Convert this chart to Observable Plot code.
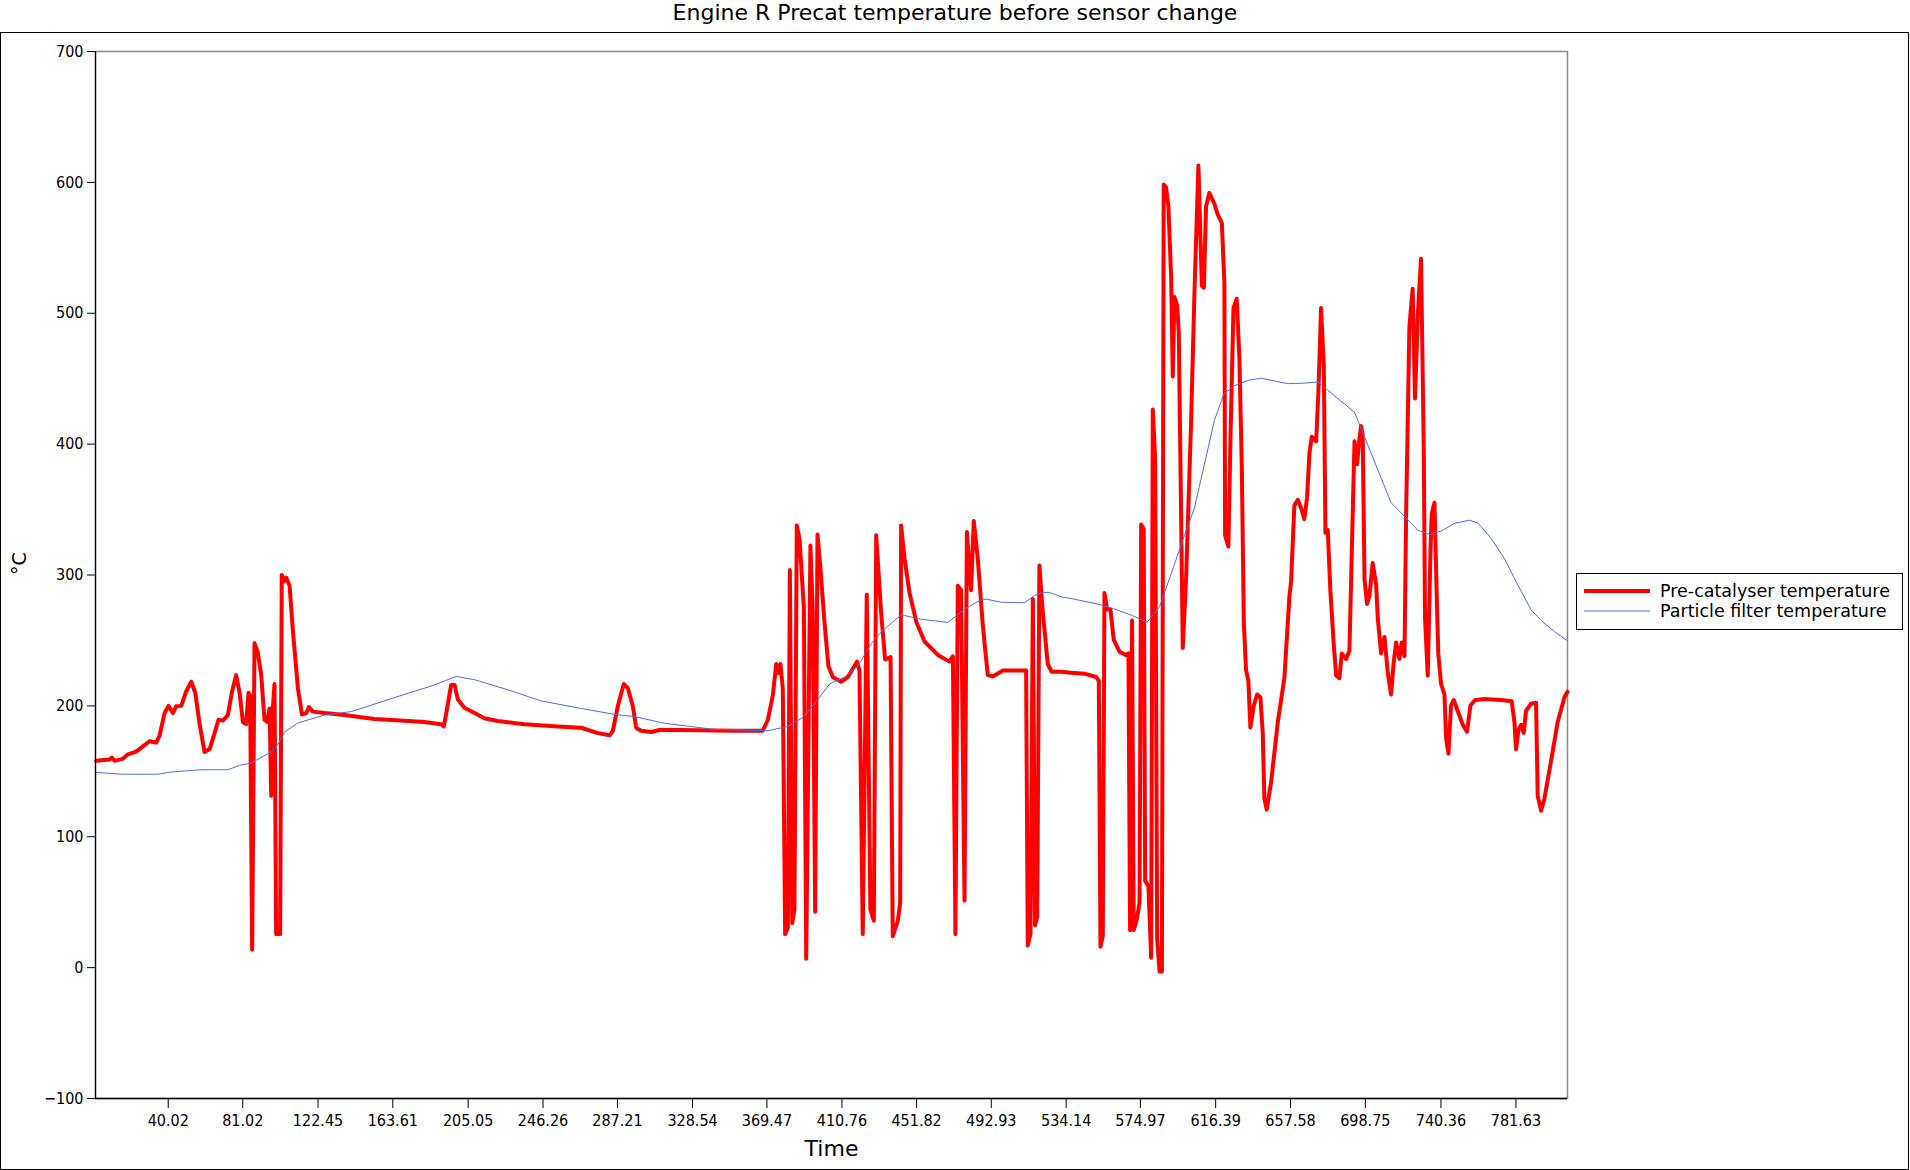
<!DOCTYPE html>
<html><head><meta charset="utf-8">
<script src="https://cdn.jsdelivr.net/npm/d3@7"></script>
<script src="https://cdn.jsdelivr.net/npm/@observablehq/plot@0.6"></script>
<style>
html,body{margin:0;padding:0;background:#fff;}
#wrap{position:relative;width:1910px;height:1170px;overflow:hidden;font-family:"DejaVu Sans",sans-serif;background:#fff;}
#title{position:absolute;left:0;top:0;width:1910px;height:32px;line-height:26px;text-align:center;font-size:22px;color:#000;}
#chart{position:absolute;left:0;top:32px;}
#border{position:absolute;left:0;top:32px;width:1909px;height:1138px;border:1px solid #000;box-sizing:border-box;pointer-events:none;}
#legend{position:absolute;left:1576px;top:573px;width:327px;height:57px;border:1px solid #000;box-sizing:border-box;background:#fff;}
#legend svg{display:block;}
</style>
</head><body>
<div id="wrap">
  <div id="title"></div>
  <div id="chart"></div>
  <div id="border"></div>
  <div id="legend"></div>
</div>
<script>
const titleText = "Engine R Precat temperature before sensor change";
const xLabel = "Time";
const yLabel = "°C";
const seriesNames = ["Pre-catalyser temperature", "Particle filter temperature"];
const seriesColors = ["#ff0000", "#4a6fe3"];

const xTicks = [40.02, 81.02, 122.45, 163.61, 205.05, 246.26, 287.21, 328.54, 369.47, 410.76, 451.82, 492.93, 534.14, 574.97, 616.39, 657.58, 698.75, 740.36, 781.63];
const yTicks = [-100, 0, 100, 200, 300, 400, 500, 600, 700];

// Pre-catalyser temperature
const preTime = [0.4, 7.7, 9, 10.5, 15, 17.8, 22.4, 27, 29.7, 33.4, 35.2, 38, 40.2, 42.6, 44.4, 47.2, 49.9, 52.7, 54.9, 57.3, 60, 62.8, 65.5, 67.7, 70.1, 72.8, 75, 77.4, 79.3, 81.1, 82.9, 84.2, 85.1, 86.2, 87.5, 89.3, 91.2, 93, 94.5, 95.8, 96.7, 97.6, 98.5, 99.4, 101.6, 102.5, 103.7, 104.9, 106.8, 108.6, 111.4, 113.6, 116, 117.4, 119.6, 126, 137, 153.5, 160.9, 181, 190.2, 191.7, 193.9, 195.7, 197.6, 199.4, 203, 208.6, 214, 221.4, 236, 254.4, 267.2,
  276.4, 282.9, 284.7, 287.4, 290.7, 293, 295.7, 297.5, 300.3, 305.8, 310.4, 322.3, 351.6, 367.2, 370, 372.7, 374.6, 375.8, 376.9, 378.2, 379.5, 381, 382.1, 383.4, 384.6, 385.9, 387.4, 389.8, 391.1, 393.4, 394.7, 396, 397.3, 398.9, 401.1, 403.3, 405.7, 410.3, 414, 419.1, 420.4, 422.2, 424.4, 426.4, 428.3, 429.6, 432.3, 434.5, 437.5, 438.7, 441.5, 442.8, 443.3, 445.2, 447.9, 451.6, 456.2, 463.5, 469.9, 471.8, 473.2, 474.5, 476.3, 478.2, 479.5, 480.9, 481.8, 483.3, 485.5, 488.3, 491, 493.7, 499.3, 512.1, 513, 514.5, 515.8, 517, 518.2, 519.4, 521.3, 524, 526.2, 531.4,
  536.9, 544.2, 550.6, 552.1, 553, 554.3, 555.2, 556.7, 558.5, 560.3, 563.5, 567.1, 568.4, 569.3, 570.4, 571.3, 573, 574.5, 575.4, 576.8, 577.6, 579.4, 580.9, 581.8, 583.1, 584.2, 585.5, 586.8, 587.8, 589.1, 590.4, 591.9, 592.8, 593.7, 595.2, 596.1, 598.3, 600.1, 602.9, 604.7, 606.9, 608.8, 609.9, 611.1, 612.9, 615.7, 617.6, 619.8, 621.2, 621.6, 623.4, 624.5, 626.2, 628, 629.5, 630.8, 631.9, 633.1, 634.4, 635.5, 637.4, 639.2, 641, 642.3, 643.2, 644.5, 646.9, 650.6, 654.2, 657, 657.9, 659.7, 661.6, 663.4, 665.2, 666.7, 668, 669.3, 671.7, 672.9, 674.4, 675.9, 676.8, 678.1, 679.5, 681.4, 682.7, 684.5, 685.8, 688.2, 690, 691.3, 692.8, 694.2, 695.5, 696.4, 697.3, 698.3, 699.7, 701, 702.8, 704.7, 705.6, 707.4, 709.3, 711.1, 712.9, 714.4, 715.7, 717.5, 718.8, 720.3, 721.2, 723, 724.8, 726.1, 727.6, 729.4, 730.9, 731.6, 733.1, 734.6, 735.3, 736.8, 738.2, 738.9, 740.4, 742.3, 743.2, 744.5, 745.9, 747.4, 749.6, 752.4, 754.7, 756.6, 759.2, 764.3, 773.4, 779.3, 780.8, 781.7, 783, 784.5, 785.9, 787.2, 789.9, 792.7, 793.6, 795.5, 797.3, 801, 804.6, 808.3, 810];
const preTemp = [158, 159, 160.5, 158, 159.5, 163, 165, 170, 173, 172, 177, 194.5, 200, 194.5, 199.7, 200, 211, 218.4, 210, 186, 164.8, 167, 179, 189.4, 188.7, 192.8, 210, 223.5, 210, 187.7, 186, 210, 208, 13.7, 247.8, 241, 223.5, 189.4, 187.7, 198, 131.4, 198, 216.7, 25.6, 25.6, 300, 295, 298, 291.8, 257.7, 213.3, 193.5, 194.5, 199, 195.6, 194.5, 193, 190, 189.4, 187.7, 186, 184.3, 201.4, 216, 216, 204.8, 198.6, 194.5, 190.5, 188.4, 186, 184.3, 183.3,
  179.2, 177.5, 181, 199.7, 216.7, 213.3, 199.7, 183.3, 181, 180, 181.6, 181.6, 181, 181, 189.4, 208, 232, 225, 232, 213.3, 25.6, 30.7, 303.8, 34, 44.4, 337.9, 327.6, 274.7, 6.8, 322.5, 271.3, 42.7, 331, 305.5, 264.5, 230.4, 222, 218.4, 222, 233.8, 227, 25.6, 285, 44.4, 35.8, 330.3, 271.3, 235.5, 237.2, 23.9, 35.8, 49.5, 337.9, 312.3, 286.7, 264.5, 249.2, 238.9, 233.8, 237.9, 25.6, 291.8, 288.4, 51.2, 332.8, 305.5, 288.4, 341.3, 312.3, 261, 223.5, 222.5, 227, 227, 17, 25.6, 281.6, 32.4, 39.2, 307.2, 271.3, 232, 226, 226,
  225.4, 224.6, 222.1, 219.1, 16, 24.3, 286.2, 273.6, 273.6, 250.6, 241.3, 238.8, 240.1, 28.5, 265.2, 28.5, 36.9, 49.5, 338.5, 335.2, 66.3, 62.1, 7.6, 426.5, 388.8, 22.2, -2.9, -2.9, 598.3, 596.2, 581.5, 527, 451.7, 512.4, 506.1, 485.2, 244.3, 296.7, 418.1, 514.5, 612.9, 520.8, 519.5, 581.5, 592, 583.6, 575.2, 569, 522.9, 330.2, 321.8, 401.4, 504, 511.1, 464.2, 380.4, 263.1, 227.5, 219.1, 183.5, 200.3, 208.7, 206.6, 179.4, 129.1, 120.7, 141.6, 187.7, 221.2, 284.1, 294.6, 353.2, 357.4, 351.1, 342.7, 359.5, 393, 405.6, 402.2, 439.1, 504, 460, 332.3, 334.4, 288.3, 246.4, 223.3, 221.2, 240.1, 235.9, 242.2, 317.6, 402.2, 384.6, 403.5, 413.9, 407.7, 296.7, 277.8, 284.1, 309.2, 292.5, 267.3, 240.1, 252.7, 225.4, 208.7, 233.8, 248.5, 235.9, 248.5, 238, 346.9, 489.4, 518.7, 434.9, 497.7, 541.7, 397.2, 267.3, 223.3, 317.6, 346.9, 355.3, 275.7, 240.1, 217, 208.7, 175.1, 163.4, 200.3, 204.5, 196.1, 185.6, 180.2, 200.3, 204.5, 205.3, 204.5, 203.6, 187.7, 166.8, 181.4, 185.6, 179.4, 196.1, 201.6, 202.4, 131.2, 119.9, 129.1, 158.4, 187.7, 206.6, 210.8];

// Particle filter temperature
const pfTime = [0.4, 14.2, 34.3, 41.7, 58.2, 72.8, 79.3, 85.7, 96.7, 100.4, 104, 111.4, 126, 140.7, 162.7, 186.6, 198.5, 208.6, 226.9, 245.2, 267.3, 285.6, 296.6, 313.1, 340.6, 370, 381, 389.2, 395.6, 403.9, 412.1, 419.5, 426.8, 433.2, 443.3, 454.3, 469, 478.2, 486.4, 490.1, 498.3, 511.2, 516.7, 521.3, 524.9, 531.4, 536.9, 544.2, 551.5, 558.9, 569.9, 578.7, 585.5, 591.9, 599.2, 604.7, 610.2, 615.7, 620.9, 626.7, 634.1, 641.4, 648.7, 656.1, 665.2, 672.6, 678.1, 685.4, 692.8, 698.3, 705.6, 712.9, 720.3, 727.6, 734, 740.4, 747.8, 756, 760.6, 767.9, 775.3, 782.6, 789.9, 795.5, 802.8, 810];
const pfTemp = [149.2, 147.8, 147.8, 149.5, 151.2, 151.2, 154.6, 156.3, 164.8, 170.6, 180, 187, 193, 195.6, 205.5, 216, 222.5, 220, 212.3, 203.8, 198, 193.5, 191.8, 186.7, 182, 181, 184.3, 191.1, 201.4, 216.7, 222, 230.4, 247.5, 257.7, 269.6, 266.2, 263.8, 273.7, 280.5, 281.6, 279.2, 278.8, 284.3, 286.7, 286.7, 283.3, 282, 279.9, 277.8, 274.9, 269.4, 264, 275.7, 300.8, 330.2, 351.1, 384.6, 418.1, 438.3, 444.5, 448.7, 450.4, 448.3, 446.2, 446.6, 447.5, 441.2, 432.8, 424.4, 405.6, 380.4, 355.3, 344.8, 334.3, 331, 333.5, 339.4, 341.9, 339.8, 328.1, 312.6, 292.5, 273.6, 265.2, 256.8, 249.7];

document.getElementById("title").textContent = titleText;

const fmtY = d => d < 0 ? "\u2212" + Math.abs(d) : String(d);

const chart = Plot.plot({
  width: 1910,
  height: 1138,
  marginLeft: 95,
  marginRight: 343,
  marginTop: 19,
  marginBottom: 72,
  style: {fontFamily: "'DejaVu Sans Condensed', 'DejaVu Sans', sans-serif", fontSize: "16px", color: "#000", background: "transparent"},
  x: {domain: [0, 810], ticks: xTicks, tickFormat: d => d.toFixed(2), tickSize: 10, tickPadding: 6, label: null},
  y: {domain: [-100, 700], ticks: yTicks, tickFormat: fmtY, tickSize: 8, tickPadding: 4, label: null},
  marks: [
    Plot.frame({stroke: "#888", strokeWidth: 1.5}),
    Plot.line(preTime, {x: preTime, y: preTemp, stroke: seriesColors[0], strokeWidth: 4, strokeLinejoin: "round", strokeLinecap: "round"}),
    Plot.line(pfTime, {x: pfTime, y: pfTemp, stroke: seriesColors[1], strokeWidth: 1}),
    Plot.ruleX([0], {stroke: "#000", strokeWidth: 1.2}),
    Plot.ruleY([-100], {stroke: "#000", strokeWidth: 1.5}),
    Plot.text([xLabel], {text: d => d, frameAnchor: "bottom", dy: 50, fontSize: 22, fontFamily: "DejaVu Sans", lineAnchor: "middle"}),
    Plot.text([yLabel], {text: d => d, frameAnchor: "left", dx: -76, rotate: -90, fontSize: 19, fontFamily: "DejaVu Sans", lineAnchor: "middle"})
  ]
});
document.getElementById("chart").appendChild(chart);

// legend
const lg = d3.select("#legend").append("svg").attr("width", 325).attr("height", 55);
seriesNames.forEach((name, i) => {
  const y = i === 0 ? 17 : 37;
  lg.append("line").attr("x1", 7).attr("x2", 73).attr("y1", y).attr("y2", y)
    .attr("stroke", seriesColors[i]).attr("stroke-width", i === 0 ? 4 : 1);
  lg.append("text").attr("x", 83).attr("y", y).attr("dy", "0.36em")
    .attr("font-family", "DejaVu Sans").attr("font-size", 17.5).text(name);
});
</script>
</body></html>
